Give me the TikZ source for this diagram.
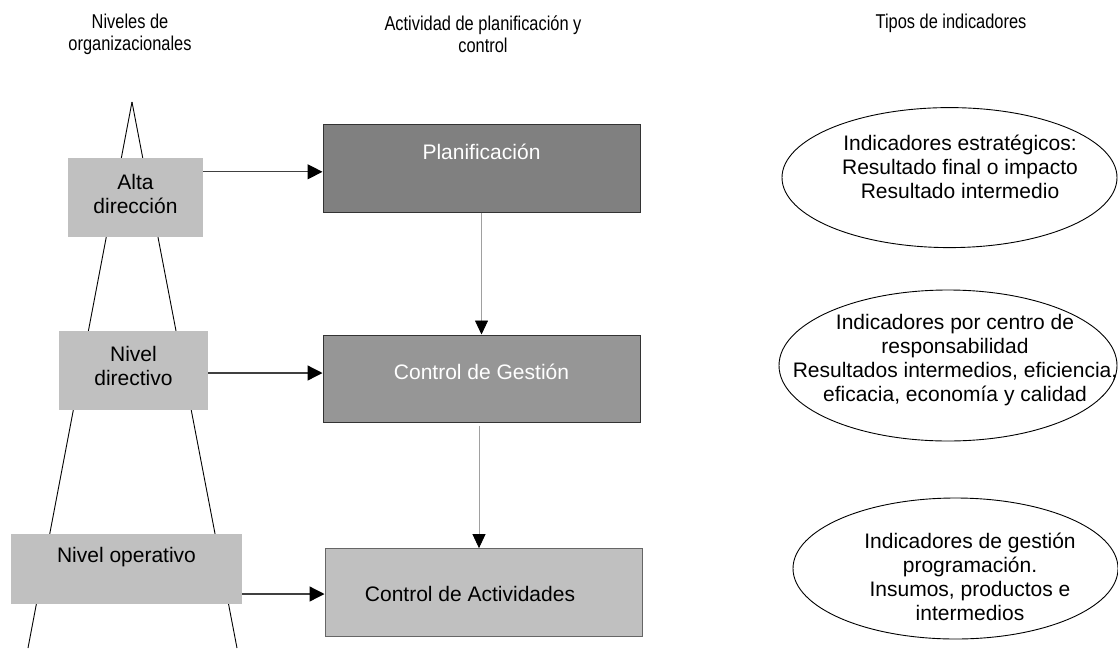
\documentclass[tikz,border=0pt]{standalone}
\usepackage{fontspec}
\setmainfont{Liberation Sans}
\newfontfamily\headfont[FakeStretch=0.82]{Liberation Sans}
\usetikzlibrary{arrows.meta,shapes.geometric}
\definecolor{darkbox}{HTML}{808080}
\definecolor{midbox}{HTML}{969696}
\definecolor{lightbox}{HTML}{C0C0C0}
\definecolor{linegray}{HTML}{404040}
\definecolor{thingray}{HTML}{A0A0A0}
\tikzset{
  body/.style={font=\fontsize{21}{24}\selectfont, align=center, inner sep=0pt},
  head/.style={font=\headfont\fontsize{20}{22}\selectfont, align=center, inner sep=0pt},
  levelbox/.style={draw=none, fill=lightbox, inner sep=0pt, rectangle},
  actbox/.style={draw=black!80, line width=1pt, inner sep=0pt, rectangle},
  indell/.style={ellipse, draw=black, line width=0.9pt, inner sep=0pt},
  harr/.style={draw=linegray, line width=1.3pt, -{Triangle[length=15pt,width=15pt,color=black]}},
  varr/.style={draw=thingray, line width=0.8pt, -{Triangle[length=14pt,width=13pt,color=black]}},
  legline/.style={draw=black, line width=0.9pt}
}
\begin{document}
\begin{tikzpicture}[x=1pt,y=-1pt]
\useasboundingbox (0,0) rectangle (1118,648);
\fill[white] (0,0) rectangle (1118,648);
% headers
\node[head] (h1) at (130,34) {Niveles de\\organizacionales};
\node[head] (h2) at (483,34) {Actividad de planificación y\\control};
\node[head] (h3) at (951,23) {Tipos de indicadores};
% pyramid
\coordinate (apex) at (132,102);
\coordinate (bl) at (28,648);
\coordinate (br) at (237,648);
\draw[legline] (apex) -- (bl);
\draw[legline] (apex) -- (br);
% level boxes
\node[levelbox, minimum width=135, minimum height=79.4] (alta) at (135.5,197.5) {};
\node[body] (altaT) at (135.5,194) {Alta\\dirección};
\node[levelbox, minimum width=149, minimum height=79] (dir) at (133.5,370) {};
\node[body] (dirT) at (133.5,366) {Nivel\\directivo};
\node[levelbox, minimum width=231, minimum height=69.5] (ope) at (126.5,569.2) {};
\node[body] (opeT) at (126.5,556.6) {Nivel operativo};
% activity boxes
\node[actbox, fill=darkbox, minimum width=317, minimum height=88] (plan) at (481.5,168) {};
\node[body, text=white] (planT) at (481.5,151.5) {Planificación};
\node[actbox, fill=midbox, minimum width=317, minimum height=87] (gest) at (481.5,378.5) {};
\node[body, text=white] (gestT) at (481.5,372) {Control de Gestión};
\node[actbox, draw=black!60, fill=lightbox, minimum width=317, minimum height=87.4] (act) at (483.5,592.3) {};
\node[body] (actT) at (470,594) {Control de Actividades};
% indicator ellipses
\node[indell, minimum width=335, minimum height=140] (e1) at (949.5,177.6) {};
\node[body] (e1T) at (960,166.5) {Indicadores estratégicos:\\Resultado final o impacto\\Resultado intermedio};
\node[indell, minimum width=338, minimum height=151] (e2) at (948,365.5) {};
\node[body] (e2T) at (955,360) {Indicadores por centro de\\responsabilidad\\Resultados intermedios, eficiencia,\\eficacia, economía y calidad};
\node[indell, minimum width=325, minimum height=141] (e3) at (955.5,568.5) {};
\node[body] (e3T) at (970,577) {Indicadores de gestión\\programación.\\Insumos, productos e\\intermedios};
% connectors
\coordinate (a1) at ([yshift=-14.2pt]alta.north east);
\draw[harr] (a1) -- (a1 -| plan.west);
\coordinate (a2) at ([yshift=-3pt]dir.east);
\draw[harr] (a2) -- (a2 -| gest.west);
\coordinate (a3) at ([yshift=-24.8pt]ope.east);
\draw[harr] (a3) -- (a3 -| act.west);
\draw[varr] (plan.south) -- (gest.north);
\coordinate (v2) at ([xshift=-2.5pt,yshift=-3pt]gest.south);
\draw[varr] (v2) -- (v2 |- act.north);
\end{tikzpicture}
\end{document}
